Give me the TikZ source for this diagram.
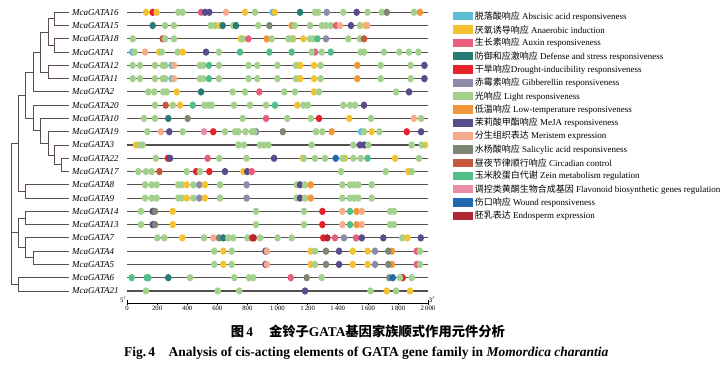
\documentclass[tikz,border=0pt]{standalone}
\usepackage{fontspec}
\setmainfont{Liberation Serif}
\newfontfamily\cjk{Noto Sans CJK SC}
\usetikzlibrary{positioning}

\definecolor{ABA}{RGB}{95,190,215}
\definecolor{ANA}{RGB}{243,194,50}
\definecolor{AUX}{RGB}{230,95,125}
\definecolor{DEF}{RGB}{38,125,120}
\definecolor{DRO}{RGB}{228,35,45}
\definecolor{GA}{RGB}{140,140,170}
\definecolor{LIG}{RGB}{163,208,140}
\definecolor{LTR}{RGB}{243,150,55}
\definecolor{MEJA}{RGB}{90,75,140}
\definecolor{MER}{RGB}{246,172,138}
\definecolor{SA}{RGB}{125,135,115}
\definecolor{CIR}{RGB}{198,88,62}
\definecolor{ZEIN}{RGB}{82,190,140}
\definecolor{FLA}{RGB}{233,140,165}
\definecolor{WOU}{RGB}{35,105,178}
\definecolor{ENDO}{RGB}{180,38,50}
\definecolor{treegray}{RGB}{90,78,78}
\definecolor{linegray}{RGB}{85,78,78}

\tikzset{
  branch/.style={draw=treegray, line width=0.9pt},
  gline/.style={draw=linegray, line width=1.1pt},
  gname/.style={anchor=west, inner sep=0pt, font=\fontsize{9}{10}\selectfont\itshape},
  legbox/.style={minimum width=19.7pt, minimum height=8.3pt, inner sep=0pt},
  legtxt/.style={anchor=west, inner sep=0pt, font=\fontsize{9}{10}\selectfont},
  ticklab/.style={font=\fontsize{6.7}{7}\selectfont, inner sep=1pt},
}

\begin{document}
\begin{tikzpicture}[x=1pt, y=-1pt]
\useasboundingbox (0,0) rectangle (727,370);

% genes, top to bottom
\foreach \g [count=\i from 0] in {16,15,18,1,12,11,2,20,10,19,3,22,17,8,9,14,13,7,4,5,6,21}
{
    \coordinate (leaf\g) at (68.5,{12.3+13.27*\i});
    \node[gname] (name\g) at (72,{12.3+13.27*\i}) {McaGATA\g};
    \coordinate (s\g) at (127,{12.3+13.27*\i});
    \coordinate (e\g) at (428,{12.3+13.27*\i});
    \draw[gline] (s\g) -- (e\g);
}

% tree
\coordinate (nA) at (54,18.9);
\coordinate (nB) at (54,45.5);
\coordinate (nC) at (48.3,32.2);
\coordinate (nD) at (48.3,72.0);
\coordinate (nE) at (40.7,52.1);
\coordinate (nF) at (33.3,72.0);
\coordinate (nJ) at (61.7,164.9);
\coordinate (nK) at (54,155.0);
\coordinate (nI) at (48.3,143.3);
\coordinate (nH) at (40.7,130.9);
\coordinate (nG) at (33.3,118.0);
\coordinate (nL) at (25.7,95.0);
\coordinate (nN) at (25.7,191.4);
\coordinate (nM) at (18.3,143.2);
\coordinate (nQ) at (25.7,218.0);
\coordinate (nS) at (33.3,257.8);
\coordinate (nR) at (25.7,247.8);
\coordinate (nP) at (18.3,232.9);
\coordinate (nT) at (18.3,284.3);
\coordinate (root) at (11.7,213.7);
\foreach \p/\c in {nA/leaf16,nA/leaf15,nB/leaf18,nB/leaf1,nC/nA,nC/nB,
    nD/leaf12,nD/leaf11,nE/nC,nE/nD,nF/nE,nF/leaf2,nJ/leaf22,nJ/leaf17,
    nK/leaf3,nK/nJ,nI/leaf19,nI/nK,nH/leaf10,nH/nI,nG/leaf20,nG/nH,
    nL/nF,nL/nG,nN/leaf8,nN/leaf9,nM/nL,nM/nN,nQ/leaf14,nQ/leaf13,
    nS/leaf4,nS/leaf5,nR/leaf7,nR/nS,nP/nQ,nP/nR,nT/leaf6,nT/leaf21,
    root/nM,root/nP,root/nT}
    \draw[branch] (\p) |- (\c);

% cis-elements (position in bp / type)
\foreach \g/\elems in {
  16/{126/ANA,171/DRO,197/ANA,341/LIG,370/LIG,492/AUX,518/MEJA,547/MEJA,658/MER,784/ANA,851/LIG,968/ABA,983/ANA,1150/DEF,1249/LIG,1271/LIG,1327/GA,1437/LIG,1526/MEJA,1599/LIG,1692/LIG,1726/SA,1907/LIG,1947/LTR},
  15/{171/DEF,253/LIG,312/LIG,556/LIG,585/LIG,613/ANA,636/DEF,706/LIG,724/DEF,872/LIG,946/SA,1094/LTR,1115/LIG,1216/LIG,1294/LIG,1322/LIG,1354/LIG,1389/AUX,1415/MER,1488/MEJA,1548/LIG,1582/ANA,1597/MER},
  18/{38/LIG,237/CIR,253/LIG,312/LIG,756/ANA,769/LIG,806/AUX,928/LTR,962/LIG,1105/ANA,1072/LIG,1094/LIG,1172/ANA,1216/LIG,1238/LIG,1265/ZEIN,1322/GA,1471/LIG,1548/LIG,1575/CIR},
  1/{35/ABA,50/LIG,120/MER,215/ANA,231/LIG,337/LIG,370/ANA,525/MEJA,611/LIG,751/ZEIN,946/ZEIN,1094/ZEIN,1249/AUX,1227/LIG,1294/LIG,1354/ZEIN,1553/LIG,1575/LIG,1708/LIG,1809/LIG,1874/LIG,1936/LIG},
  12/{38/LIG,86/LIG,186/LIG,237/LIG,253/LIG,297/ABA,312/MER,485/LIG,507/LIG,545/ZEIN,611/LIG,807/LIG,866/LIG,999/LIG,1123/LIG,1150/ANA,1243/ANA,1287/LIG,1530/LTR,1686/LIG,1885/LIG,1976/MEJA},
  11/{38/LIG,86/LIG,186/LIG,237/LIG,253/LIG,297/ABA,312/MER,485/LIG,507/LIG,545/ZEIN,611/LIG,807/LIG,866/LIG,999/LIG,1123/LIG,1150/ANA,1243/ANA,1287/LIG,1530/LTR,1686/LIG,1885/LIG,1976/MEJA},
  2/{142/LIG,181/LIG,241/LIG,264/LIG,330/ANA,492/DEF,702/LIG,784/LIG,879/AUX,1045/LIG,1116/LIG,1243/ANA,1276/LIG,1788/LIG,1874/MEJA},
  20/{186/LIG,257/CIR,304/LIG,352/ANA,437/ZEIN,514/LIG,540/LIG,563/LIG,711/LIG,817/LIG,924/LIG,983/ZEIN,1132/ANA,1172/LIG,1201/LIG,1437/LIG,1482/LIG,1515/LIG,1575/MEJA},
  10/{113/LIG,186/LIG,274/DEF,403/SA,769/LIG,924/AUX,1065/LIG,1221/LIG,1276/DRO,1477/ANA,1621/LIG,1907/MER,1954/LIG},
  19/{135/LIG,226/MER,281/MEJA,370/LIG,512/FLA,573/DRO,651/LIG,718/LIG,740/LIG,787/LIG,829/LIG,858/GA,844/LIG,1035/SA,1256/LIG,1298/LIG,1360/LTR,1555/ABA,1575/LIG,1626/ANA,1677/LIG,1859/DRO,1954/MEJA},
  3/{60/ANA,86/LIG,104/LIG,740/LIG,777/LIG,884/LIG,910/LIG,939/LIG,1227/LIG,1504/LIG,1548/MEJA,1577/MEJA,1603/LIG,1892/LIG,1980/ANA,1958/LIG},
  22/{191/LIG,272/DRO,286/MEJA,536/AUX,613/LIG,794/LIG,977/MEJA,1168/ANA,1176/LIG,1249/LIG,1316/LIG,1387/WOU,1448/ANA,1433/LIG,1504/LIG,1553/LIG,1599/ZEIN,1781/ANA,1940/LIG},
  17/{75/LIG,126/LIG,164/LIG,215/CIR,397/LIG,459/DRO,485/LIG,547/DRO,651/MEJA,773/ANA,799/MEJA,829/AUX,1422/LIG,1719/LIG,1869/ANA,1892/LIG},
  8/{120/LIG,164/LIG,197/LIG,341/LIG,364/LIG,397/ANA,441/LIG,480/GA,518/ANA,618/LIG,795/GA,1128/LIG,1150/MEJA,1183/LIG,1221/LTR,1431/LIG,1482/LIG,1510/LIG,1537/LIG,1626/LIG},
  9/{120/LIG,164/LIG,197/LIG,341/LIG,364/LIG,397/ANA,441/LIG,480/GA,518/ANA,618/LIG,795/GA,1128/LIG,1150/MEJA,1183/LIG,1221/LTR,1431/LIG,1482/LIG,1510/LIG,1537/LIG,1626/LIG},
  14/{93/LIG,171/MEJA,186/SA,304/ANA,857/LIG,1176/LIG,1298/DRO,1431/MER,1482/ZEIN,1526/LTR,1560/MER,1748/LIG,1774/LIG},
  13/{93/LIG,171/MEJA,186/SA,304/ANA,857/LIG,1176/LIG,1298/DRO,1431/MER,1482/ZEIN,1526/LTR,1560/MER,1748/LIG,1774/LIG},
  7/{201/LIG,248/LIG,367/ANA,512/LIG,573/MER,611/SA,640/DEF,673/LIG,706/LIG,801/LIG,832/DRO,842/ENDO,884/LIG,1001/LIG,1094/LIG,1304/DRO,1331/ENDO,1382/AUX,1442/GA,1522/AUX,1560/MEJA,1703/MEJA,1829/LIG,1863/ANA,1952/MEJA},
  4/{580/LIG,640/ANA,696/LIG,920/MEJA,930/MER,1221/ANA,1249/LIG,1322/SA,1409/MEJA,1500/ANA,1599/ANA,1648/GA,1760/LTR,1736/SA,1925/AUX,1947/LIG},
  5/{580/LIG,640/ANA,696/LIG,920/MEJA,930/MER,1221/ANA,1249/LIG,1322/SA,1409/MEJA,1500/ANA,1599/ANA,1648/GA,1760/LTR,1736/SA,1925/AUX,1947/LIG},
  6/{31/ZEIN,131/ZEIN,142/ZEIN,274/DEF,419/LIG,713/LIG,811/LIG,839/LIG,1088/AUX,1194/SA,1294/LIG,1743/SA,1766/WOU,1832/DRO,1814/LIG,1892/LIG},
  21/{126/LIG,603/LIG,746/LIG,1183/MEJA,1618/LIG,1726/ANA,1788/LIG,1881/ANA}}
{
    \foreach \p/\c in \elems
        \fill[fill=\c] ([xshift=\p*0.1505pt]s\g) ellipse (3.3pt and 3.7pt);
}

% axis
\coordinate (ax0) at (127,303);
\coordinate (ax1) at (428,303);
\draw[line width=0.6pt] (ax0) -- (ax1);
\foreach \t/\lab in {0/0,200/200,400/400,600/600,800/800,1000/{1\,000},1200/{1\,200},1400/{1\,400},1600/{1\,600},1800/{1\,800},2000/{2\,000}}
    \draw[line width=0.5pt] ([xshift=\t*0.1505pt]ax0) -- ++(0,2) node[ticklab, below] {\lab};
\draw[line width=0.5pt] (ax0) -- ++(0,-3) node[ticklab, left, inner sep=0.5pt] {5$'$};
\draw[line width=0.5pt] (ax1) -- ++(0,-3) node[ticklab, right, inner sep=0.5pt] {3$'$};

% legend
\foreach \c/\txt [count=\k from 0] in {
  ABA/{{\cjk 脱落酸响应} Abscisic acid responsiveness},
  ANA/{{\cjk 厌氧诱导响应} Anaerobic induction},
  AUX/{{\cjk 生长素响应} Auxin responsiveness},
  DEF/{{\cjk 防御和应激响应} Defense and stress responsiveness},
  DRO/{{\cjk 干旱响应}Drought-inducibility responsiveness},
  GA/{{\cjk 赤霉素响应} Gibberellin responsiveness},
  LIG/{{\cjk 光响应} Light responsiveness},
  LTR/{{\cjk 低温响应} Low-temperature responsiveness},
  MEJA/{{\cjk 茉莉酸甲酯响应} MeJA responsiveness},
  MER/{{\cjk 分生组织表达} Meristem expression},
  SA/{{\cjk 水杨酸响应} Salicylic acid responsiveness},
  CIR/{{\cjk 昼夜节律顺行响应} Circadian control},
  ZEIN/{{\cjk 玉米胶蛋白代谢} Zein metabolism regulation},
  FLA/{{\cjk 调控类黄酮生物合成基因} Flavonoid biosynthetic genes regulation},
  WOU/{{\cjk 伤口响应} Wound responsiveness},
  ENDO/{{\cjk 胚乳表达} Endosperm expression}}
{
    \node[legbox, fill=\c] (key\k) at (462.8,{16.3+13.31*\k}) {};
    \node[legtxt, right=1.8pt of key\k] (keytxt\k) {\txt};
}

% captions
\node[font=\cjk\bfseries\fontsize{13.3}{15}\selectfont] (capzh) at (368,331.5)
    {图\,{\rmfamily 4}\hspace{1.2em}金铃子{\rmfamily GATA}基因家族顺式作用元件分析};
\node[anchor=west, font=\bfseries\fontsize{13.5}{15}\selectfont] (capen) at (120.5,353)
    {Fig.\,4\hspace{1em}Analysis of cis-acting elements of GATA gene family in \textit{Momordica charantia}};
\end{tikzpicture}
\end{document}
